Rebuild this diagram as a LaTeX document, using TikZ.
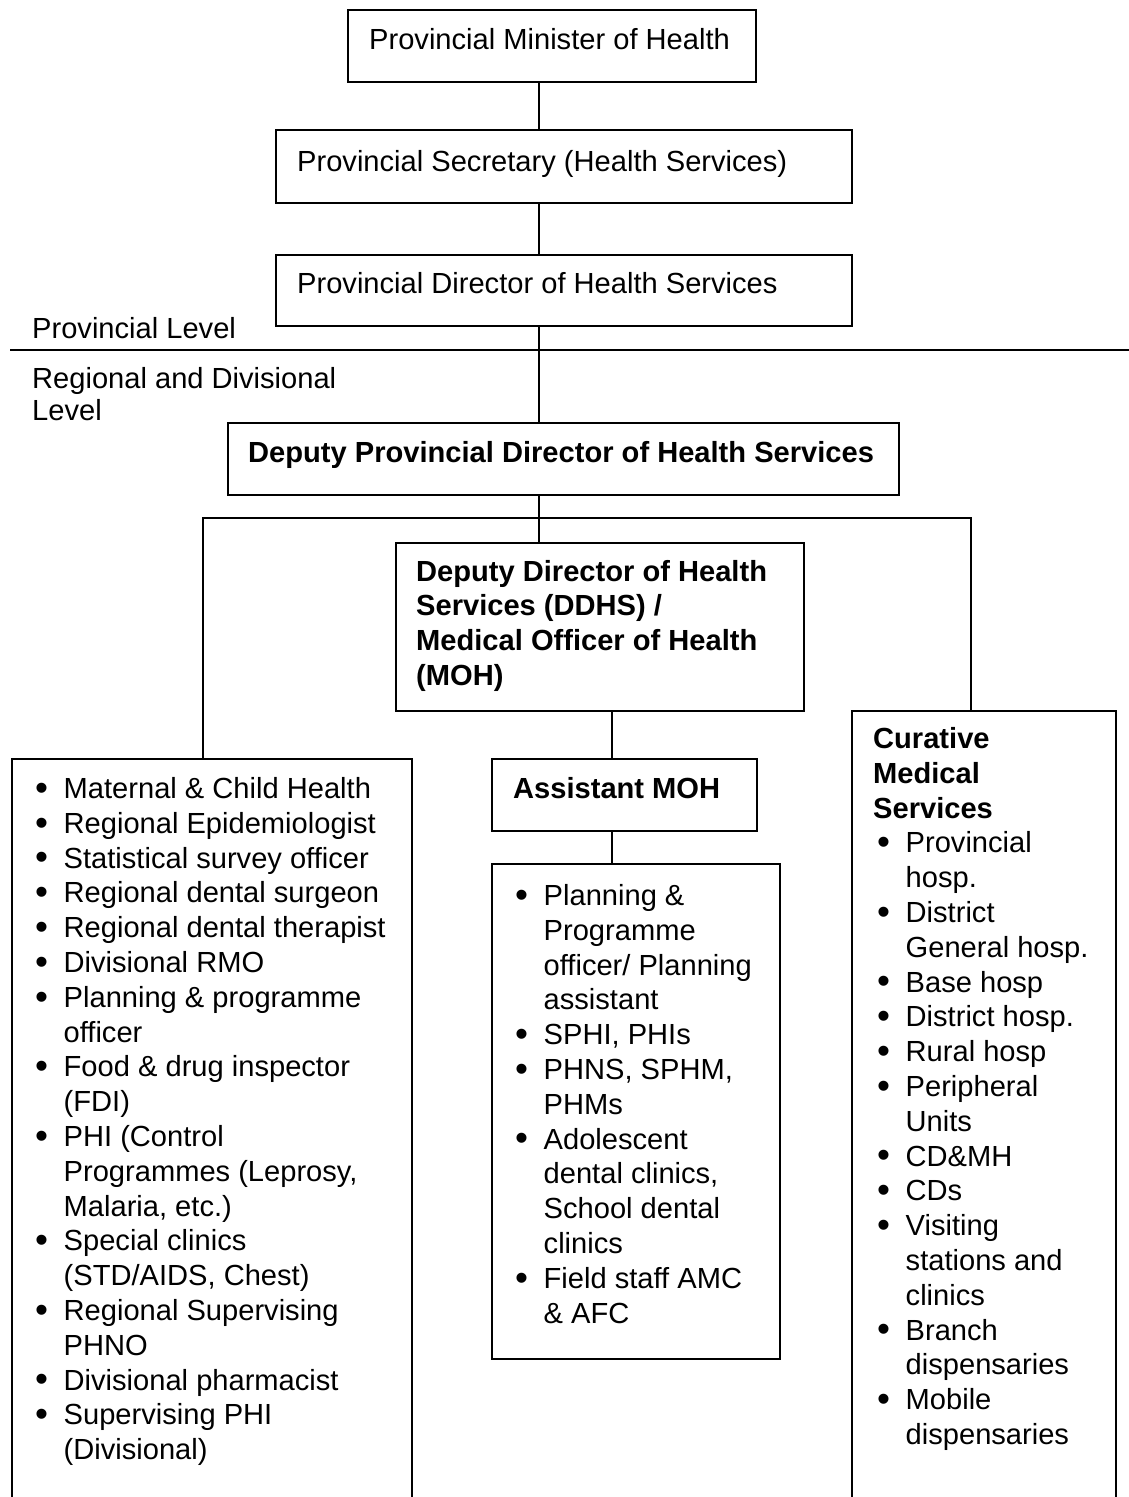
\documentclass[tikz,border=0pt]{standalone}
\usepackage{fontspec}
\setmainfont{Liberation Sans}
\newcommand\fs{\fontsize{29.1}{34.8}\selectfont}
\newcommand\bl{\makebox[28.5pt][l]{\raisebox{-1.8pt}{\fontsize{37}{0}\selectfont •}}}
\newcommand\ind{\hspace*{28.5pt}}
\begin{document}
\begin{tikzpicture}[x=1pt,y=-1pt,
  box/.style={draw, line width=1.6pt, rectangle, inner sep=0pt, anchor=north west},
  lbl/.style={anchor=base west, inner sep=0pt, font=\fs},
  conn/.style={line width=1.6pt}]
\clip (0,0) rectangle (1129,1497);
\useasboundingbox (0,0) rectangle (1129,1497);
\fill[white] (0,0) rectangle (1129,1497);

% boxes
\node[box, minimum width=408pt, minimum height=72pt] (b1) at (347,9) {};
\node[box, minimum width=576pt, minimum height=73pt] (b2) at (275,129) {};
\node[box, minimum width=576pt, minimum height=71pt] (b3) at (275,254) {};
\node[box, minimum width=671pt, minimum height=72pt] (b4) at (227,422) {};
\node[box, minimum width=408pt, minimum height=168pt] (ddhs) at (395,542) {};
\node[box, minimum width=400pt, minimum height=760pt] (left) at (11,758) {};
\node[box, minimum width=265pt, minimum height=72pt] (asst) at (491,758) {};
\node[box, minimum width=288pt, minimum height=495pt] (mid) at (491,863) {};
\node[box, minimum width=264pt, minimum height=800pt] (right) at (851,710) {};

% texts
\node[lbl] (t1) at (369,49) {Provincial Minister of Health};
\node[lbl] (t2) at (297,171) {Provincial Secretary (Health Services)};
\node[lbl] (t3) at (297,293) {Provincial Director of Health Services};
\node[lbl] (t4) at (248,462) {\bfseries Deputy Provincial Director of Health Services};
\node[lbl] (tprov) at (32,338) {Provincial Level};
\node[lbl] (treg) at (32,388) {\parbox[t]{400pt}{\fontsize{29.1}{32}\selectfont Regional and Divisional\\Level}};
\node[lbl] (tddhs) at (416,581) {\parbox[t]{380pt}{\fs\bfseries Deputy Director of Health\\Services (DDHS) /\\Medical Officer of Health\\(MOH)}};
\node[lbl] (tasst) at (513,798) {\bfseries Assistant MOH};

\node[lbl] (tleft) at (35,798.5) {\parbox[t]{380pt}{\fs
\bl Maternal \& Child Health\\
\bl Regional Epidemiologist\\
\bl Statistical survey officer\\
\bl Regional dental surgeon\\
\bl Regional dental therapist\\
\bl Divisional RMO\\
\bl Planning \& programme\\
\ind officer\\
\bl Food \& drug inspector\\
\ind (FDI)\\
\bl PHI (Control\\
\ind Programmes (Leprosy,\\
\ind Malaria, etc.)\\
\bl Special clinics\\
\ind (STD/AIDS, Chest)\\
\bl Regional Supervising\\
\ind PHNO\\
\bl Divisional pharmacist\\
\bl Supervising PHI\\
\ind (Divisional)}};

\node[lbl] (tmid) at (515,905.5) {\parbox[t]{280pt}{\fs
\bl Planning \&\\
\ind Programme\\
\ind officer/ Planning\\
\ind assistant\\
\bl SPHI, PHIs\\
\bl PHNS, SPHM,\\
\ind PHMs\\
\bl Adolescent\\
\ind dental clinics,\\
\ind School dental\\
\ind clinics\\
\bl Field staff AMC\\
\ind \& AFC}};

\node[lbl] (tright) at (873,748.5) {\parbox[t]{260pt}{\fs
{\bfseries Curative}\\
{\bfseries Medical}\\
{\bfseries Services}\\
\hspace*{4pt}\bl Provincial\\
\hspace*{4pt}\ind hosp.\\
\hspace*{4pt}\bl District\\
\hspace*{4pt}\ind General hosp.\\
\hspace*{4pt}\bl Base hosp\\
\hspace*{4pt}\bl District hosp.\\
\hspace*{4pt}\bl Rural hosp\\
\hspace*{4pt}\bl Peripheral\\
\hspace*{4pt}\ind Units\\
\hspace*{4pt}\bl CD\&MH\\
\hspace*{4pt}\bl CDs\\
\hspace*{4pt}\bl Visiting\\
\hspace*{4pt}\ind stations and\\
\hspace*{4pt}\ind clinics\\
\hspace*{4pt}\bl Branch\\
\hspace*{4pt}\ind dispensaries\\
\hspace*{4pt}\bl Mobile\\
\hspace*{4pt}\ind dispensaries}};

% level divider
\coordinate (divL) at (10,350);
\coordinate (divR) at (1129,350);
\draw[conn] (divL) -- (divR);

% connectors
\coordinate (spine) at (539,0);
\coordinate (busL) at (203,518);
\coordinate (busR) at (971,518);
\coordinate (c2) at (612,0);
\draw[conn] (b1.south -| spine) -- (b2.north -| spine);
\draw[conn] (b2.south -| spine) -- (b3.north -| spine);
\draw[conn] (b3.south -| spine) -- (b4.north -| spine);
\draw[conn] (b4.south -| spine) -- (ddhs.north -| spine);
\draw[conn] (left.north -| busL) -- (busL) -- (busR) -- (right.north -| busR);
\draw[conn] (ddhs.south -| c2) -- (asst.north -| c2);
\draw[conn] (asst.south -| c2) -- (mid.north -| c2);
\end{tikzpicture}
\end{document}
